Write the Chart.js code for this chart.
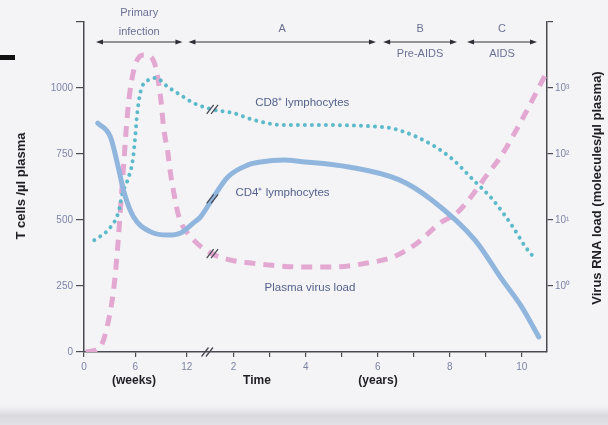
<!DOCTYPE html>
<html>
<head>
<meta charset="utf-8">
<script src="https://cdn.jsdelivr.net/npm/chart.js@4"></script>
<style>
  html, body { margin: 0; padding: 0; background: #f4f4f6; }
  #wrap { width: 608px; height: 425px; position: relative; }
</style>
</head>
<body>
<div id="wrap"><canvas id="c" width="608" height="425"></canvas></div>
<script>
// ---------------- DATA ----------------
// time axis: weeks (primary infection) then a break, then years
const weekTicks = [0, 6, 12];
const yearTicks = [2, 3, 4, 5, 6, 7, 8, 9, 10];
const yearTickLabels = ['2', '', '4', '', '6', '', '8', '', '10'];
const leftTicks = [0, 250, 500, 750, 1000, 1250];
const rightTickValues = [250, 500, 750, 1000, 1250];
const rightTickLabels = ['10\u2070', '10\u00B9', '10\u00B2', '10\u00B3', ''];

// CD4+ lymphocytes (T cells / µl)
const cd4WeeksT = [1.6, 3.1, 4.0, 4.7, 5.8, 7.8, 9.8, 11.3, 12.8, 13.6, 15.0];
const cd4WeeksV = [867, 814, 700, 602, 511, 455, 443, 451, 489, 511, 580];
const cd4YearsT = [1.84, 2.39, 2.75, 3.4, 3.85, 5.2, 6.6, 7.5, 8.7, 9.46, 10.0, 10.47];
const cd4YearsV = [663, 708, 720, 727, 722, 701, 652, 576, 424, 273, 170, 57];

// CD8+ lymphocytes
const cd8WeeksT = [1.2, 2.8, 4.0, 4.5, 5.1, 5.7, 5.95, 6.2, 6.6, 7.5, 8.4, 9.8, 11.3, 12.8, 15.2];
const cd8WeeksV = [424, 462, 527, 602, 652, 727, 803, 898, 985, 1030, 1038, 1004, 973, 943, 917];
const cd8YearsT = [2.0, 2.55, 3.38, 3.85, 6.15, 7.09, 8.0, 8.65, 9.2, 9.75, 10.1, 10.4];
const cd8YearsV = [905, 879, 860, 860, 852, 814, 739, 652, 576, 474, 398, 348];

// Plasma virus load (plotted on the shared scale of the right log axis)
const virusWeeksT = [0.2, 1.4, 2.1, 2.8, 3.5, 4.0, 4.3, 4.66, 4.9, 5.13, 5.5, 6.06, 7.0, 7.8, 8.4, 9.0, 9.3, 9.8, 10.1, 10.5, 11.1, 12.5, 14.8];
const virusWeeksV = [0, 8, 30, 110, 246, 424, 560, 720, 830, 920, 1015, 1095, 1125, 1118, 1075, 950, 850, 754, 678, 602, 511, 436, 375];
const virusYearsT = [1.92, 2.47, 2.94, 3.86, 4.77, 5.71, 6.43, 7.1, 7.73, 8.2, 8.67, 9.07, 9.41, 10.0, 10.68];
const virusYearsV = [348, 337, 330, 322, 322, 337, 360, 413, 489, 527, 602, 678, 739, 879, 1057];

// stage annotations (start/end given as [unit, value])
const stageNames = ['Primary\ninfection', 'A', 'B', 'C'];
const stageSub = ['', '', 'Pre-AIDS', 'AIDS'];
const stageFrom = [['w', 1.4], ['w', 12.2], ['y', 6.15], ['y', 8.48]];
const stageTo = [['w', 11.5], ['y', 5.95], ['y', 8.2], ['y', 10.42]];

// ---------------- AXIS MAPPING (broken time axis) ----------------
const YEAR2_POS = 17.48, PER_YEAR = 4.21, X_MAX = 54.1, BREAK_POS = 15.0;
const wPos = w => w;
const yPos = y => YEAR2_POS + (y - 2) * PER_YEAR;
const posOf = ([u, v]) => u === 'w' ? wPos(v) : yPos(v);

function series(wT, wV, yT, yV) {
  const pts = wT.map((t, i) => ({ x: wPos(t), y: wV[i] }));
  return pts.concat(yT.map((t, i) => ({ x: yPos(t), y: yV[i] })));
}
const tickPositions = weekTicks.map(wPos).concat(yearTicks.map(yPos));
const tickLabelMap = {};
weekTicks.forEach(w => tickLabelMap[wPos(w).toFixed(3)] = String(w));
yearTicks.forEach((y, i) => tickLabelMap[yPos(y).toFixed(3)] = yearTickLabels[i]);

const AXIS = '#4a4a52';
const TICKTXT = '#7c84a6';
const NOTE = '#55628c';

const decor = {
  id: 'decor',
  beforeDraw(chart) {
    const c = chart.ctx;
    c.save();
    c.fillStyle = '#f4f4f6';
    c.fillRect(0, 0, chart.width, chart.height);
    // scan artefacts: page edge at the bottom and a black bar at top-left
    const g = c.createLinearGradient(0, 406, 0, 425);
    g.addColorStop(0, 'rgba(214,214,220,0)');
    g.addColorStop(0.5, 'rgba(212,212,218,0.85)');
    g.addColorStop(1, 'rgba(226,226,230,1)');
    c.fillStyle = g;
    c.fillRect(0, 406, chart.width, 19);
    c.fillStyle = '#111';
    c.fillRect(0, 55, 15, 5);
    c.restore();
  },
  afterDraw(chart) {
    const c = chart.ctx, xs = chart.scales.x, ys = chart.scales.y;
    const px = u => xs.getPixelForValue(u);
    c.save();
    // stage arrows
    c.strokeStyle = '#2e2e36';
    c.fillStyle = '#2e2e36';
    c.lineWidth = 1.1;
    const ay = 42;
    stageNames.forEach((name, i) => {
      const x1 = px(posOf(stageFrom[i])), x2 = px(posOf(stageTo[i]));
      c.beginPath(); c.moveTo(x1 + 3, ay); c.lineTo(x2 - 3, ay); c.stroke();
      c.beginPath(); c.moveTo(x1, ay); c.lineTo(x1 + 7, ay - 2.6); c.lineTo(x1 + 7, ay + 2.6); c.closePath(); c.fill();
      c.beginPath(); c.moveTo(x2, ay); c.lineTo(x2 - 7, ay - 2.6); c.lineTo(x2 - 7, ay + 2.6); c.closePath(); c.fill();
    });
    c.font = '11px "Liberation Sans", Arial, sans-serif';
    c.textAlign = 'center';
    c.textBaseline = 'middle';
    c.fillStyle = '#6a7194';
    stageNames.forEach((name, i) => {
      const x1 = px(posOf(stageFrom[i])), x2 = px(posOf(stageTo[i]));
      const cx = (x1 + x2) / 2;
      const lines = name.split('\n');
      if (lines.length === 2) {
        c.fillText(lines[0], cx, 13);
        c.fillText(lines[1], cx, 32);
      } else {
        c.fillText(lines[0], cx, 29);
      }
      if (stageSub[i]) c.fillText(stageSub[i], cx, 54);
    });
    // curve labels
    c.fillStyle = NOTE;
    c.textAlign = 'left';
    c.font = '11.5px "Liberation Sans", Arial, sans-serif';
    c.fillText('CD8\u207A lymphocytes', px(20.0), ys.getPixelForValue(943));
    c.fillText('CD4\u207A lymphocytes', px(17.7), ys.getPixelForValue(602));
    c.fillText('Plasma virus load', px(21.1), ys.getPixelForValue(242));

    // break marks on each curve and on the axis
    const drawBreak = (x, y) => {
      c.strokeStyle = '#4a4a55';
      c.lineWidth = 1.3;
      [-2.2, 2.2].forEach(o => {
        c.beginPath();
        c.moveTo(x + o - 3.5, y + 4.5);
        c.lineTo(x + o + 3.5, y - 4.5);
        c.stroke();
      });
    };
    chart.data.datasets.forEach((ds) => {
      const d = ds.data;
      for (let k = 0; k < d.length - 1; k++) {
        if (d[k].x <= BREAK_POS && d[k + 1].x >= BREAK_POS) {
          const f = (BREAK_POS - d[k].x) / (d[k + 1].x - d[k].x || 1);
          const v = d[k].y + f * (d[k + 1].y - d[k].y);
          drawBreak(px(BREAK_POS), ys.getPixelForValue(v));
          break;
        }
      }
    });
    drawBreak(px(BREAK_POS - 0.6), ys.getPixelForValue(0));

    // axis titles
    c.fillStyle = '#1e1e24';
    c.font = 'bold 12px "Liberation Sans", Arial, sans-serif';
    c.textAlign = 'center';
    c.fillText('(weeks)', 134, 381);
    c.fillText('Time', 257, 381);
    c.fillText('(years)', 378, 381);
    c.font = 'bold 13px "Liberation Sans", Arial, sans-serif';
    c.save();
    c.translate(21, 186);
    c.rotate(-Math.PI / 2);
    c.fillText('T cells /\u00B5l plasma', 0, 0);
    c.restore();
    c.save();
    c.translate(597, 188);
    c.rotate(-Math.PI / 2);
    c.fillText('Virus RNA load (molecules/\u00B5l plasma)', 0, 0);
    c.restore();
    c.restore();
  }
};

const tickFont = { family: '"Liberation Sans", Arial, sans-serif', size: 10 };

new Chart(document.getElementById('c'), {
  type: 'line',
  data: {
    datasets: [
      {
        label: 'CD4+ lymphocytes',
        data: series(cd4WeeksT, cd4WeeksV, cd4YearsT, cd4YearsV),
        borderColor: '#90b6de',
        borderWidth: 5,
        cubicInterpolationMode: 'monotone',
        pointRadius: 0,
        borderCapStyle: 'round',
        order: 0
      },
      {
        label: 'CD8+ lymphocytes',
        data: series(cd8WeeksT, cd8WeeksV, cd8YearsT, cd8YearsV),
        borderColor: '#5cbacb',
        borderWidth: 4,
        borderDash: [0.01, 7],
        borderCapStyle: 'round',
        cubicInterpolationMode: 'monotone',
        pointRadius: 0,
        order: 1
      },
      {
        label: 'Plasma virus load',
        data: series(virusWeeksT, virusWeeksV, virusYearsT, virusYearsV),
        borderColor: '#e3a8d1',
        borderWidth: 5,
        borderDash: [11, 8],
        cubicInterpolationMode: 'monotone',
        pointRadius: 0,
        yAxisID: 'y',
        order: 2
      }
    ]
  },
  options: {
    responsive: false,
    animation: false,
    layout: { padding: { top: 22, left: 0, right: 0, bottom: 0 } },
    plugins: { legend: { display: false }, tooltip: { enabled: false } },
    scales: {
      x: {
        type: 'linear',
        min: 0,
        max: X_MAX,
        afterFit: s => { s.height = 73; },
        afterBuildTicks: s => { s.ticks = tickPositions.map(v => ({ value: v })); },
        grid: { drawOnChartArea: false, drawTicks: true, tickLength: 5, color: AXIS, lineWidth: 1.2 },
        border: { display: true, color: AXIS, width: 1.5 },
        ticks: {
          autoSkip: false,
          maxRotation: 0,
          padding: 4,
          color: TICKTXT,
          font: tickFont,
          callback: v => tickLabelMap[Number(v).toFixed(3)] ?? ''
        }
      },
      y: {
        position: 'left',
        min: 0,
        max: 1250,
        afterFit: s => { s.width = 84; },
        afterBuildTicks: s => { s.ticks = leftTicks.map(v => ({ value: v })); },
        grid: { drawOnChartArea: false, drawTicks: true, tickLength: 8, color: AXIS, lineWidth: 1.2 },
        border: { display: true, color: AXIS, width: 1.5 },
        ticks: {
          padding: 3,
          color: TICKTXT,
          font: tickFont,
          callback: v => (v === 1250 ? '' : String(v))
        }
      },
      y2: {
        position: 'right',
        min: 0,
        max: 1250,
        afterFit: s => { s.width = 61; },
        afterBuildTicks: s => { s.ticks = rightTickValues.map(v => ({ value: v })); },
        grid: { drawOnChartArea: false, drawTicks: true, tickLength: 6, color: AXIS, lineWidth: 1.2 },
        border: { display: true, color: AXIS, width: 1.5 },
        ticks: {
          padding: 2,
          color: TICKTXT,
          font: tickFont,
          callback: v => rightTickLabels[rightTickValues.indexOf(v)] ?? ''
        }
      }
    }
  },
  plugins: [decor]
});
</script>
</body>
</html>
